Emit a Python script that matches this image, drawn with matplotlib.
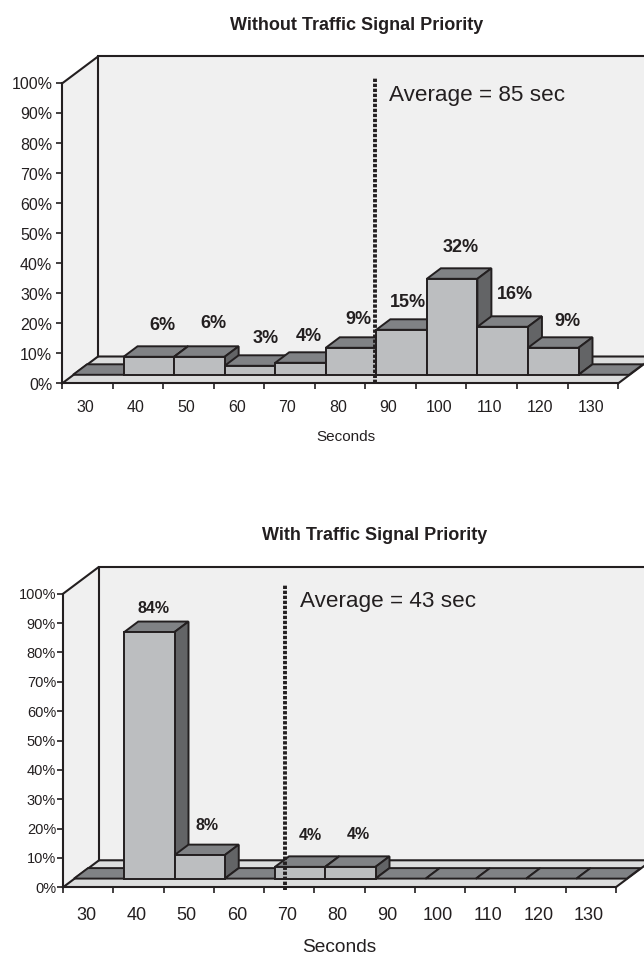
import matplotlib
matplotlib.use("Agg")
import matplotlib.pyplot as plt
from matplotlib.patches import Polygon

plt.rcParams['font.family'] = ['Liberation Sans', 'DejaVu Sans']

W, H = 644, 955
INK = '#231f20'
WALL = '#f0f0f0'
FLOOR = '#dcdddd'
FRONT = '#bcbec0'
TOP = '#808285'
SIDE = '#636466'

categories = ['30', '40', '50', '60', '70', '80', '90', '100', '110', '120', '130']
y_ticks = [0, 10, 20, 30, 40, 50, 60, 70, 80, 90, 100]

titles = ['Without Traffic Signal Priority', 'With Traffic Signal Priority']
averages = ['Average = 85 sec', 'Average = 43 sec']

# share of buses per bin, percent. shown = printed label, heights come from it too
without_tsp = [0, 6, 6, 3, 4, 9, 15, 32, 16, 9, 0]
with_tsp = [0, 84, 8, 0, 4, 4, 0, 0, 0, 0, 0]

# where the dashed average line sits, in bin units from the axis origin
avg_pos = [6.19, 4.41]

# label nudges from the bar's front top centre, px (right, up)
nudge_top = {1: (14, 31.5), 2: (14, 33.5), 3: (16, 27.5), 4: (8, 26.5), 5: (7, 28.5),
             6: (6, 27.5), 7: (9, 31.5), 8: (12, 32.5), 9: (14, 26.5)}
nudge_bottom = {1: (4, 24), 2: (7, 30), 4: (10, 31), 5: (8, 32)}

fig = plt.figure(figsize=(W / 100, H / 100), dpi=100)


def panel(y_top, y_bot, x0, y0, bin_w, pct_h, values, nudges, title, title_xy,
          avg_text, avg_xy, avg_x, avg_span, xlab_xy, xfont, yfont, lblfont, xpad, xlabfont, ypad):
    ax = fig.add_axes([0, 1 - y_bot / H, 1, (y_bot - y_top) / H])
    ax.set_xlim(-x0 / bin_w, (W - x0) / bin_w)
    ax.set_ylim((y0 - y_bot) / pct_h, (y0 - y_top) / pct_h)
    ax.patch.set_visible(False)

    # depth offsets, px -> data
    ux, uy = 1 / bin_w, 1 / pct_h
    wx, wy = 36 * ux, 27 * uy      # wall
    gx, gy = 11 * ux, 8.7 * uy     # front of the bars
    dx, dy = 14 * ux, 10.5 * uy    # bar depth
    n = len(values)
    edge = dict(edgecolor=INK, linewidth=1.4, joinstyle='miter')

    ax.add_patch(Polygon([(0, 0), (wx, wy), (wx, 100 + wy), (0, 100)], facecolor=WALL, edgecolor='none'))
    ax.add_patch(Polygon([(wx, wy), (n + 2, wy), (n + 2, 100 + wy), (wx, 100 + wy)], facecolor=WALL, edgecolor='none'))
    ax.add_patch(Polygon([(0, 0), (n, 0), (n + wx, wy), (wx, wy)], facecolor=FLOOR, edgecolor='none'))
    ax.plot([0, wx, wx, n + 2], [100, 100 + wy, wy, wy], color=INK, lw=1.5, solid_joinstyle='miter')
    ax.plot([wx, n + 2], [100 + wy, 100 + wy], color=INK, lw=1.5)
    ax.plot([0, wx], [0, wy], color=INK, lw=1.5)
    ax.plot([n, n + wx], [0, wy], color=INK, lw=1.5)

    for i, v in enumerate(values):
        l, r = i + gx, i + 1 + gx
        b, t = gy, gy + v
        ax.add_patch(Polygon([(l, t), (r, t), (r + dx, t + dy), (l + dx, t + dy)], facecolor=TOP, zorder=3, **edge))
        if v > 0:
            ax.add_patch(Polygon([(r, b), (r + dx, b + dy), (r + dx, t + dy), (r, t)], facecolor=SIDE, zorder=3, **edge))
            ax.add_patch(Polygon([(l, b), (r, b), (r, t), (l, t)], facecolor=FRONT, zorder=3, **edge))
        if i in nudges:
            nx, ny = nudges[i]
            ax.annotate(f'{v}%', (i + 0.5 + gx, t), xytext=(nx * 0.72, ny * 0.72),
                        textcoords='offset points', ha='center', va='center',
                        fontsize=lblfont, fontweight='bold', color=INK, zorder=5)

    ax.plot([avg_x, avg_x], avg_span, color=INK, lw=2.8, linestyle=(0, (0.86, 0.43)), zorder=4)

    for s in ('top', 'right'):
        ax.spines[s].set_visible(False)
    ax.spines['left'].set_position(('data', 0))
    ax.spines['bottom'].set_position(('data', 0))
    ax.spines['left'].set_bounds(0, 100)
    ax.spines['bottom'].set_bounds(0, n)
    ax.spines['left'].set_linewidth(1.5)
    ax.spines['bottom'].set_linewidth(1.5)
    ax.spines['left'].set_color(INK)
    ax.spines['bottom'].set_color(INK)

    ax.set_yticks(y_ticks)
    ax.set_yticklabels([f'{t}%' for t in y_ticks], fontsize=yfont, color=INK)
    ax.tick_params(axis='y', length=4, width=1.2, color=INK, pad=ypad)
    ax.set_xticks(range(n + 1), minor=True)
    ax.tick_params(axis='x', which='minor', length=4, width=1.2, color=INK)
    ax.set_xticks([i + 0.46 for i in range(n)])
    ax.set_xticklabels(categories, fontsize=xfont, color=INK)
    ax.tick_params(axis='x', which='major', length=0, pad=xpad)

    fig.text(title_xy[0] / W, 1 - title_xy[1] / H, title, ha='center', va='center',
             fontsize=13, fontweight='bold', color=INK)
    fig.text(avg_xy[0] / W, 1 - avg_xy[1] / H, avg_text, ha='left', va='center',
             fontsize=16.2, color=INK)
    fig.text(xlab_xy[0] / W, 1 - xlab_xy[1] / H, 'Seconds', ha='center', va='center',
             fontsize=xlabfont, color=INK)


panel(0, 470, 62, 383.5, 50.55, 3.0, without_tsp, nudge_top, titles[0], (357, 26),
      averages[0], (389, 95), avg_pos[0], [0, 102], (346, 437), 11.5, 11.5, 13, 12, 11, 3)
panel(470, 955, 63, 887.3, 50.25, 2.935, with_tsp, nudge_bottom, titles[1], (375, 535),
      averages[1], (300, 601), avg_pos[1], [-1, 103], (339, 947), 13, 10.5, 11.5, 14, 13.8, 1)

fig.savefig('out.png', dpi=100)
